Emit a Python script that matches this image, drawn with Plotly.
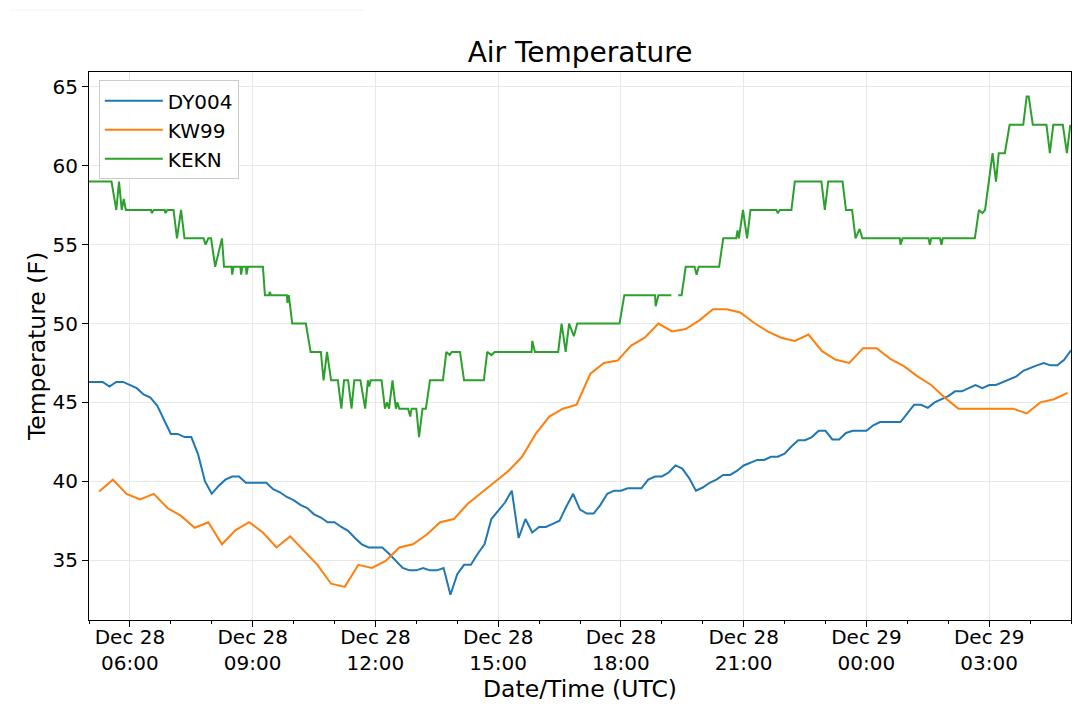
### Air temperature comparison chart (DY004 / KW99 / KEKN) ###

from datetime import datetime, timedelta
import plotly.graph_objects as go

# Fecha inicial de las series (la hora se da como HH:MM y pasa al día siguiente cuando retrocede)
start_day = "2018-12-28"

# DY004 (cada ~10 min)
dy004_times = ["05:00", "05:20", "05:30", "05:40", "05:50", "06:10", "06:20", "06:30", "06:40", "07:00",
               "07:10", "07:20", "07:30", "07:40", "07:50", "08:00", "08:10", "08:20", "08:30", "08:40",
               "08:50", "09:00", "09:10", "09:20", "09:30", "09:40", "09:50", "10:00", "10:10", "10:20",
               "10:30", "10:40", "10:50", "11:00", "11:10", "11:20", "11:30", "11:40", "11:50", "12:00",
               "12:10", "12:20", "12:30", "12:40", "12:50", "13:00", "13:10", "13:20", "13:30", "13:40",
               "13:50", "14:00", "14:10", "14:20", "14:30", "14:40", "14:50", "15:00", "15:10", "15:20",
               "15:30", "15:40", "15:50", "16:00", "16:10", "16:20", "16:30", "16:40", "16:50", "17:00",
               "17:10", "17:20", "17:30", "17:40", "17:50", "18:00", "18:10", "18:20", "18:30", "18:40",
               "18:50", "19:00", "19:10", "19:20", "19:30", "19:40", "19:50", "20:00", "20:10", "20:20",
               "20:30", "20:40", "20:50", "21:00", "21:10", "21:20", "21:30", "21:40", "21:50", "22:00",
               "22:10", "22:20", "22:30", "22:40", "22:50", "23:00", "23:10", "23:20", "23:30", "23:40",
               "23:50", "00:00", "00:10", "00:20", "00:30", "00:40", "00:50", "01:00", "01:10", "01:20",
               "01:30", "01:40", "01:50", "02:00", "02:10", "02:20", "02:30", "02:40", "02:50", "03:00",
               "03:10", "03:20", "03:30", "03:40", "03:50", "04:00", "04:10", "04:20", "04:30", "04:40",
               "04:50", "05:00"]
dy004_temp = [46.3, 46.3, 46.0, 46.3, 46.3, 45.9, 45.5, 45.3, 44.8, 43.0,
              43.0, 42.8, 42.8, 41.7, 40.0, 39.2, 39.7, 40.1, 40.3, 40.3,
              39.9, 39.9, 39.9, 39.9, 39.5, 39.3, 39.0, 38.8, 38.5, 38.3,
              37.9, 37.7, 37.4, 37.4, 37.1, 36.85, 36.4, 36.0, 35.8, 35.8,
              35.8, 35.4, 34.95, 34.5, 34.35, 34.35, 34.5, 34.35, 34.35, 34.5,
              32.8, 34.1, 34.7, 34.7, 35.4, 36.0, 37.6, 38.1, 38.65, 39.4,
              36.4, 37.6, 36.75, 37.1, 37.1, 37.3, 37.5, 38.4, 39.2, 38.2,
              37.95, 37.95, 38.5, 39.2, 39.4, 39.4, 39.55, 39.55, 39.55, 40.1,
              40.3, 40.3, 40.55, 41.0, 40.8, 40.2, 39.4, 39.6, 39.9, 40.1,
              40.4, 40.4, 40.65, 41.0, 41.2, 41.35, 41.35, 41.55, 41.55, 41.75,
              42.2, 42.6, 42.6, 42.8, 43.2, 43.2, 42.65, 42.65, 43.06, 43.2,
              43.2, 43.2, 43.55, 43.75, 43.75, 43.75, 43.75, 44.3, 44.85, 44.85,
              44.65, 45.0, 45.2, 45.4, 45.7, 45.7, 45.9, 46.1, 45.9, 46.1,
              46.1, 46.3, 46.45, 46.65, 47.0, 47.2, 47.35, 47.5, 47.35, 47.35,
              47.7, 48.3]

# KW99 (cada 20 min)
kw99_times = ["05:15", "05:35", "05:55", "06:15", "06:35", "06:55", "07:15", "07:35", "07:55", "08:15",
              "08:35", "08:55", "09:15", "09:35", "09:55", "10:15", "10:35", "10:55", "11:15", "11:35",
              "11:55", "12:15", "12:35", "12:55", "13:15", "13:35", "13:55", "14:15", "14:35", "14:55",
              "15:15", "15:35", "15:55", "16:15", "16:35", "16:55", "17:15", "17:35", "17:55", "18:15",
              "18:35", "18:55", "19:15", "19:35", "19:55", "20:15", "20:35", "20:55", "21:15", "21:35",
              "21:55", "22:15", "22:35", "22:55", "23:15", "23:35", "23:55", "00:15", "00:35", "00:55",
              "01:15", "01:35", "01:55", "02:15", "02:35", "02:55", "03:15", "03:35", "03:55", "04:15",
              "04:35", "04:55"]
kw99_temp = [39.35, 40.1, 39.2, 38.85, 39.2, 38.3, 37.8, 37.05, 37.4, 36.0,
             36.9, 37.4, 36.75, 35.8, 36.5, 35.6, 34.7, 33.5, 33.3, 34.7,
             34.5, 34.95, 35.8, 36.0, 36.6, 37.4, 37.6, 38.55, 39.25, 39.95,
             40.65, 41.55, 43.0, 44.1, 44.6, 44.85, 46.8, 47.5, 47.65, 48.6,
             49.1, 50.0, 49.5, 49.65, 50.2, 50.9, 50.9, 50.7, 50.05, 49.5,
             49.1, 48.9, 49.3, 48.25, 47.7, 47.5, 48.44, 48.44, 47.76, 47.3,
             46.65, 46.1, 45.3, 44.6, 44.6, 44.6, 44.6, 44.6, 44.3, 45.0,
             45.2, 45.6]

# KEKN (METAR, grados C enteros pasados a F; None = hueco en los datos)
kekn_times = ["05:00", "05:33", "05:40", "05:44", "05:48", "05:51", "05:54", "06:31", "06:32", "06:35",
              "06:51", "06:52", "06:55", "07:04", "07:09", "07:15", "07:20", "07:48", "07:51", "07:55",
              "07:59", "08:05", "08:15", "08:18", "08:29", "08:30", "08:32", "08:42", "08:43", "08:45",
              "08:50", "08:51", "08:53", "09:15", "09:18", "09:24", "09:25", "09:27", "09:50", "09:51",
              "09:53", "09:58", "10:18", "10:25", "10:40", "10:44", "10:49", "10:55", "11:05", "11:10",
              "11:14", "11:20", "11:25", "11:29", "11:38", "11:45", "11:49", "11:51", "11:53", "12:09",
              "12:14", "12:17", "12:20", "12:25", "12:30", "12:32", "12:35", "12:48", "12:51", "12:53",
              "13:00", "13:04", "13:09", "13:14", "13:20", "13:39", "13:44", "13:49", "13:52", "14:04",
              "14:10", "14:39", "14:44", "14:50", "14:55", "15:49", "15:50", "15:54", "16:28", "16:33",
              "16:39", "16:44", "16:51", "16:56", "17:58", "18:05", "18:50", "18:51", "18:55", "19:14",
              "19:19", "19:24", "19:29", "19:35", "19:48", "19:51", "19:54", "20:24", "20:30", "20:49",
              "20:51", "20:53", "20:59", "21:05", "21:10", "21:48", "21:50", "21:53", "22:10", "22:15",
              "22:54", "22:59", "23:04", "23:25", "23:30", "23:39", "23:44", "23:50", "23:54", "00:49",
              "00:50", "00:53", "01:31", "01:33", "01:35", "01:48", "01:50", "01:52", "02:39", "02:45",
              "02:50", "02:54", "03:05", "03:10", "03:14", "03:23", "03:30", "03:50", "03:55", "03:58",
              "04:04", "04:24", "04:29", "04:34", "04:48", "04:54", "04:59"]
kekn_temp = [59.0, 59.0, 57.2, 59.0, 57.2, 57.9, 57.2, 57.2, 57.0, 57.2,
             57.2, 57.0, 57.2, 57.2, 55.4, 57.2, 55.4, 55.4, 55.0, 55.4,
             55.4, 53.6, 55.4, 53.6, 53.6, 53.1, 53.6, 53.6, 53.1, 53.6,
             53.6, 53.1, 53.6, 53.6, 51.8, 51.8, 52.0, 51.8, 51.8, 51.3,
             51.8, 50.0, 50.0, 48.2, 48.2, 46.4, 48.2, 46.4, 46.4, 44.6,
             46.4, 46.4, 44.6, 46.4, 46.4, 44.6, 46.4, 46.0, 46.4, 46.4,
             44.6, 45.0, 44.6, 46.4, 44.6, 45.0, 44.6, 44.6, 44.1, 44.6,
             44.6, 42.8, 44.6, 44.6, 46.4, 46.4, 48.2, 48.0, 48.2, 48.2,
             46.4, 46.4, 48.2, 48.0, 48.2, 48.2, 48.9, 48.2, 48.2, 50.0,
             48.2, 50.0, 49.2, 50.0, 50.0, 51.8, 51.8, 51.1, 51.8, 51.8,
             None, 51.8, 51.8, 53.6, 53.6, 53.1, 53.6, 53.6, 55.4, 55.4,
             55.9, 55.4, 57.2, 55.4, 57.2, 57.2, 57.0, 57.2, 57.2, 59.0,
             59.0, 57.2, 59.0, 59.0, 57.2, 57.2, 55.4, 56.0, 55.4, 55.4,
             55.0, 55.4, 55.4, 55.0, 55.4, 55.4, 55.0, 55.4, 55.4, 57.2,
             57.0, 57.2, 60.8, 59.0, 60.8, 60.8, 62.6, 62.6, 64.4, 64.4,
             62.6, 62.6, 60.8, 62.6, 62.6, 60.8, 62.6]


def to_datetimes(hhmm_list, day=start_day):
    # Convierte HH:MM a datetime, avanzando un día cuando la hora retrocede
    base = datetime.strptime(day, "%Y-%m-%d")
    out = []
    offset = 0
    prev = None
    for s in hhmm_list:
        h, m = map(int, s.split(":"))
        minutes = h * 60 + m
        if prev is not None and minutes < prev:
            offset += 1
        prev = minutes
        out.append(base + timedelta(days=offset, hours=h, minutes=m))
    return out


font_family = "DejaVu Sans, Arial, sans-serif"

fig = go.Figure()
fig.add_trace(go.Scatter(x=to_datetimes(dy004_times), y=dy004_temp, mode="lines", name="DY004",
                         line=dict(color="#1f77b4", width=2)))
fig.add_trace(go.Scatter(x=to_datetimes(kw99_times), y=kw99_temp, mode="lines", name="KW99",
                         line=dict(color="#ff7f0e", width=2)))
fig.add_trace(go.Scatter(x=to_datetimes(kekn_times), y=kekn_temp, mode="lines", name="KEKN",
                         line=dict(color="#2ca02c", width=2), connectgaps=False))

# Etiquetas del eje x cada 3 horas
tick_dates = [datetime(2018, 12, 28, 6) + timedelta(hours=3 * i) for i in range(8)]
tick_text = [d.strftime("%b %d<br>%H:%M") for d in tick_dates]

# La página deja 8 px de margen, así que la figura es algo menor que la ventana
fig.update_layout(
    width=1072, height=709,
    margin=dict(l=81, r=9, t=64, b=97),
    paper_bgcolor="white", plot_bgcolor="white",
    font=dict(family=font_family, size=20, color="black"),
    title=dict(text="Air Temperature", x=0.5, xref="paper", xanchor="center", y=0.938, yanchor="middle",
               yref="container", font=dict(size=28, color="black")),
    showlegend=True,
    legend=dict(x=0.01, y=0.985, xanchor="left", yanchor="top",
                bgcolor="rgba(255,255,255,0.85)", bordercolor="#cccccc", borderwidth=1,
                font=dict(size=20), tracegroupgap=0, itemwidth=58),
    xaxis=dict(
        range=[datetime(2018, 12, 28, 5), datetime(2018, 12, 29, 5)],
        tickvals=tick_dates, ticktext=tick_text,
        ticks="outside", ticklen=6, tickcolor="black", ticklabelstandoff=-7,
        showline=True, mirror=True, linecolor="black", linewidth=1,
        showgrid=True, gridcolor="#e8e8e8", gridwidth=1, zeroline=False,
        minor=dict(dtick=3600000, tick0=datetime(2018, 12, 28, 5), ticks="outside",
                   ticklen=3, tickcolor="black", showgrid=False),
        title=dict(text="Date/Time (UTC)", font=dict(size=23.5), standoff=6),
        tickfont=dict(size=20),
    ),
    yaxis=dict(
        range=[31.2, 65.95],
        tickvals=[35, 40, 45, 50, 55, 60, 65],
        ticks="outside", ticklen=6, tickcolor="black",
        showline=True, mirror=True, linecolor="black", linewidth=1,
        showgrid=True, gridcolor="#e8e8e8", gridwidth=1, zeroline=False,
        title=dict(text="Temperature (F)", font=dict(size=23.5), standoff=0),
        tickfont=dict(size=20),
    ),
    shapes=[dict(type="line", xref="paper", yref="paper", x0=-0.08, x1=0.281, y0=1.113, y1=1.113,
                 line=dict(color="#f2f2f2", width=1))],
)

fig.write_html("out.html")
